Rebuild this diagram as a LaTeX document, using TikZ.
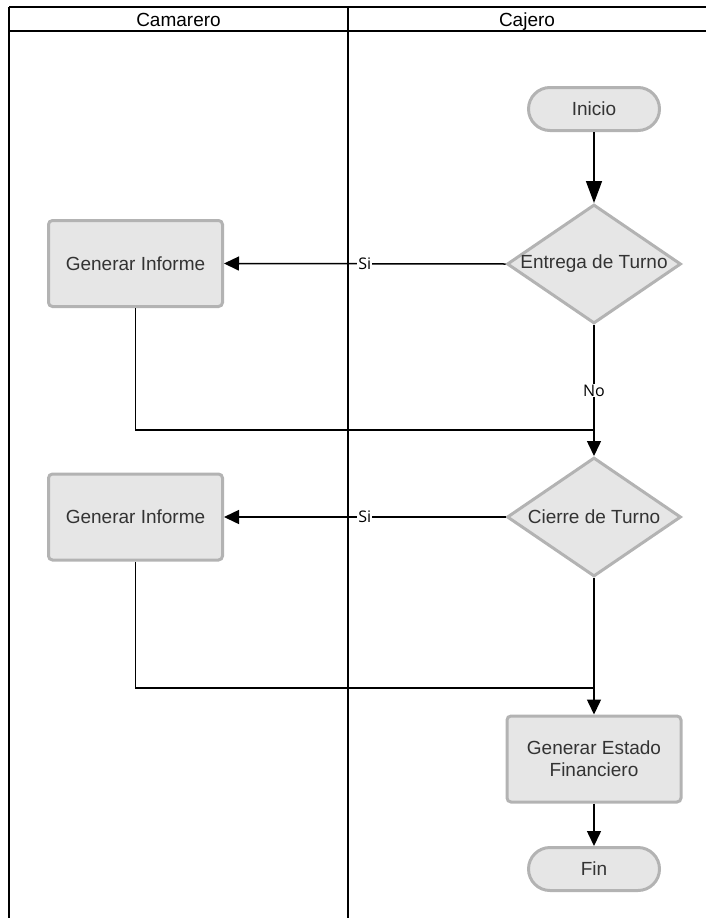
\documentclass[tikz,border=0pt]{standalone}
\usepackage{fontspec}
\setmainfont{Liberation Sans}
\newfontfamily\labfont{Open Sans}
\usetikzlibrary{shapes.geometric,shapes.misc,arrows.meta}
\definecolor{boxfill}{HTML}{E6E6E6}
\definecolor{boxline}{HTML}{B3B3B3}
\definecolor{boxtext}{HTML}{333333}
\tikzset{
  lane/.style={line width=2pt,black},
  proc/.style={rectangle,rounded corners=4pt,fill=boxfill,draw=boxline,line width=3pt,
    minimum width=174pt,minimum height=86pt,inner sep=0pt,text=boxtext,align=center,
    font=\fontsize{19}{22}\selectfont},
  term/.style={rounded rectangle,fill=boxfill,draw=boxline,line width=3pt,
    minimum width=131pt,minimum height=43pt,inner sep=0pt,text=boxtext,
    font=\fontsize{19}{22}\selectfont},
  decision/.style={diamond,fill=boxfill,draw=boxline,line width=3pt,
    minimum width=174pt,minimum height=119pt,inner sep=0pt,
    label={[text=boxtext,font=\fontsize{19}{22}\selectfont]center:#1}},
  conn/.style={line width=1.5pt,black},
  arr/.style={conn,-{Triangle[length=15pt,width=14pt]}},
  lab/.style={fill=white,inner sep=1pt,font=\labfont\fontsize{16}{16}\selectfont,text=black},
  head/.style={font=\fontsize{19}{19}\selectfont,text=black,anchor=base,inner sep=0pt}
}
\begin{document}
\begin{tikzpicture}[x=1pt,y=-1pt]
\useasboundingbox (0,0) rectangle (706,918);
% swimlanes
\draw[lane] (9,7) -- (710,7);
\draw[lane] (9,31) -- (710,31);
\draw[lane] (9,7) -- (9,920);
\draw[lane] (348,7) -- (348,920);
\node[head] (hcam) at (178.5,26) {Camarero};
\node[head] (hcaj) at (527,26) {Cajero};
% nodes
\node[term] (inicio) at (594,109) {Inicio};
\node[decision={Entrega de Turno}] (d1) at (594,264) {};
\node[proc] (inf1) at (135.5,263.5) {Generar Informe};
\node[decision={Cierre de Turno}] (d2) at (594,517) {};
\node[proc] (inf2) at (135.5,517) {Generar Informe};
\node[proc] (est) at (594,759) {Generar Estado\\Financiero};
\node[term] (fin) at (594,869) {Fin};
\coordinate (j1) at (594,430);
\coordinate (j2) at (594,688);
% connectors
\draw[conn,-{Triangle[length=22pt,width=16pt]}] (inicio.south) -- (d1.north);
\draw[arr] (d1.west) -- node[lab] {Si} (inf1.east);
\draw[arr] (d1.south) -- node[lab] {No} (d2.north);
\draw[conn] (inf1.south) |- (j1);
\draw[arr] (d2.west) -- node[lab] {Si} (inf2.east);
\draw[arr] (d2.south) -- (est.north);
\draw[conn] (inf2.south) |- (j2);
\draw[arr] (est.south) -- (fin.north);
\end{tikzpicture}
\end{document}
